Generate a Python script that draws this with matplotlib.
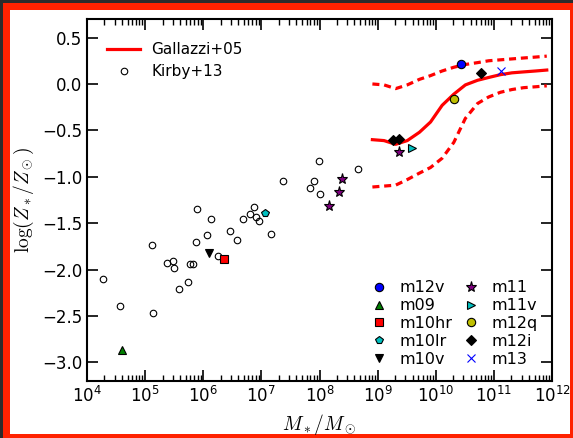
import numpy as np
import matplotlib
matplotlib.use('Agg')
from matplotlib import pyplot as plt
from matplotlib.patches import Rectangle

# Gallazzi+05 stellar mass-metallicity relation (median, 16th, 84th percentiles)
gal_logm = [8.91, 9.11, 9.31, 9.51, 9.72, 9.91, 10.11, 10.31, 10.51, 10.72, 10.91, 11.11, 11.31, 11.51, 11.72, 11.91]
gal_p50 = [-0.60, -0.61, -0.65, -0.61, -0.52, -0.41, -0.23, -0.11, -0.01, 0.04, 0.07, 0.10, 0.12, 0.13, 0.14, 0.15]
gal_p16 = [-1.11, -1.10, -1.09, -1.03, -0.96, -0.90, -0.80, -0.63, -0.37, -0.21, -0.14, -0.09, -0.06, -0.04, -0.03, -0.02]
gal_p84 = [0.00, -0.01, -0.05, -0.01, 0.05, 0.09, 0.14, 0.18, 0.21, 0.23, 0.25, 0.26, 0.27, 0.28, 0.29, 0.30]

# Kirby+13 dwarf galaxies
kirby_logm = [4.28, 4.56, 5.12, 5.14, 5.38, 5.48, 5.50, 5.58, 5.73, 5.78, 5.83, 5.88, 5.89,
              6.07, 6.14, 6.26, 6.46, 6.58, 6.69, 6.81, 6.88, 6.91, 6.96, 7.16, 7.38,
              7.83, 7.91, 7.99, 8.00, 8.66]
kirby_z = [-2.10, -2.39, -1.74, -2.47, -1.93, -1.91, -1.98, -2.21, -2.13, -1.94, -1.94, -1.70, -1.35,
           -1.63, -1.45, -1.85, -1.58, -1.68, -1.45, -1.40, -1.33, -1.43, -1.48, -1.62, -1.04,
           -1.12, -1.05, -0.83, -1.19, -0.92]

# FIRE runs
sim_names = ['m12v', 'm09', 'm10hr', 'm10lr', 'm10v', 'm11', 'm11v', 'm12q', 'm12i', 'm13']
sim_logm = [[10.44], [4.61], [6.36], [7.06], [6.10], [8.17, 8.33, 8.39, 9.37], [9.59], [10.32],
            [9.27, 9.37, 10.77], [11.12]]
sim_z = [[0.22], [-2.87], [-1.89], [-1.39], [-1.82], [-1.31, -1.16, -1.02, -0.73], [-0.69], [-0.16],
         [-0.60, -0.59, 0.12], [0.14]]
sim_marker = ['o', '^', 's', 'p', 'v', '*', '>', 'o', 'D', 'x']
sim_color = ['b', 'g', 'r', 'c', 'k', 'purple', 'c', 'y', 'k', 'b']
sim_size = [6, 6, 5.5, 6, 6, 8, 6, 6, 5, 6]

fig = plt.figure(figsize=(5.73, 4.38), dpi=100, facecolor='#2b2b2b')
W, H = 573., 438.
fig.add_artist(Rectangle((3 / W, 0), 570 / W, 435 / H, transform=fig.transFigure,
                         facecolor='#ff2200', edgecolor='none', zorder=-3))
fig.add_artist(Rectangle((10 / W, 4 / H), 560 / W, 424 / H, transform=fig.transFigure,
                         facecolor='white', edgecolor='none', zorder=-2))

ax = fig.add_axes([87 / W, 57 / H, 465 / W, 362 / H])
ax.set_facecolor('white')

gx = 10 ** np.array(gal_logm)
l1, = ax.plot(gx, gal_p50, '-', color='r', lw=2.3, label='Gallazzi+05')
ax.plot(gx, gal_p16, '--', color='r', lw=2.3, dashes=(2.2, 1.5))
ax.plot(gx, gal_p84, '--', color='r', lw=2.3, dashes=(2.2, 1.5))
l2, = ax.plot(10 ** np.array(kirby_logm), kirby_z, 'o', mfc='none', mec='k', mew=0.8, ms=4.7,
              label='Kirby+13')

sims = []
for name, lm, z, mk, c, s in zip(sim_names, sim_logm, sim_z, sim_marker, sim_color, sim_size):
    if mk == 'x':
        h, = ax.plot(10 ** np.array(lm), z, mk, color=c, ms=s, mew=0.8, ls='none', label=name)
    else:
        h, = ax.plot(10 ** np.array(lm), z, mk, mfc=c, mec='k', mew=0.8, ms=s, ls='none', label=name)
    sims.append(h)

ax.set_xscale('log')
ax.set_xlim(1e4, 1e12)
ax.set_ylim(-3.2, 0.7)
ax.set_yticks(np.arange(-3.0, 0.51, 0.5))
ax.set_xticks(10.0 ** np.arange(4, 13))
ax.tick_params(which='both', direction='in', top=True, right=True, labelsize=12)
ax.tick_params(which='major', length=8, width=1.2)
ax.tick_params(which='minor', length=4, width=1)
for sp in ax.spines.values():
    sp.set_linewidth(1.5)

ax.set_xlabel(r'$M_*/M_\odot$', fontsize=14, math_fontfamily='cm')
ax.set_ylabel(r'$\log(Z_*/Z_\odot)$', fontsize=14, math_fontfamily='cm')

leg1 = ax.legend(handles=[l1, l2], loc='upper left', bbox_to_anchor=(0.0, 0.99), frameon=False,
                 fontsize=11, handlelength=2.2, handletextpad=0.7, labelspacing=0.45,
                 borderaxespad=0.9)
ax.add_artist(leg1)
ax.legend(handles=sims, loc='lower right', ncol=2, frameon=False, fontsize=11.5,
          handlelength=1.0, labelspacing=0.18, columnspacing=0.63, borderaxespad=0.49)

plt.savefig('out.png', dpi=100, facecolor=fig.get_facecolor())
